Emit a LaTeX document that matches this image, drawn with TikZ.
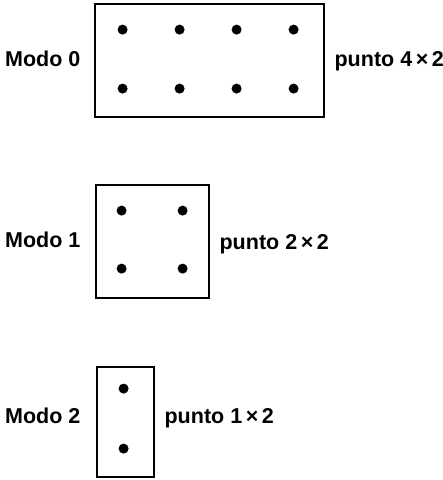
\documentclass[tikz,border=0pt]{standalone}
\usepackage{fontspec}
\setmainfont{Liberation Sans}
\usetikzlibrary{positioning, calc}

\begin{document}
\begin{tikzpicture}[x=1pt, y=-1pt, node distance=10pt,
    font=\bfseries\fontsize{21.5}{25}\selectfont,
    pantalla/.style={draw, line width=2.8pt, inner sep=0pt, minimum height=113pt},
    punto/.style={circle, fill, inner sep=0pt, minimum size=10pt},
    etiqueta/.style={inner sep=0pt, text height=15pt, text depth=4pt}]
    \useasboundingbox (0,0) rectangle (443,480);

    % Pantallas
    \node (modo0) [pantalla, minimum width=229pt] at (209.5,60.5) {};
    \node (modo1) [pantalla, minimum width=113pt] at (152.5,241.5) {};
    \node (modo2) [pantalla, minimum width=57pt, minimum height=110pt] at (125.5,422) {};

    % Puntos
    \foreach \i in {0,...,3}
        \foreach \j in {0,1}
            \node (p0\i\j) [punto] at ($(modo0.north west)+(29+57*\i, 27+59*\j)$) {};
    \foreach \i in {0,1}
        \foreach \j in {0,1}
            \node (p1\i\j) [punto] at ($(modo1.north west)+(27+61*\i, 27+58*\j)$) {};
    \foreach \j in {0,1}
        \node (p20\j) [punto] at ($(modo2.north west)+(28, 23+60*\j)$) {};

    % Etiquetas
    \node (nom0) [etiqueta, left=13pt of modo0] {Modo 0};
    \node (res0) [etiqueta, right=9pt of modo0] {punto 4\,×\,2};
    \node (nom1) [etiqueta, left=14pt of modo1] {Modo 1};
    \node (res1) [etiqueta, right=9pt of modo1, yshift=-2pt] {punto 2\,×\,2};
    \node (nom2) [etiqueta, left=15pt of modo2, yshift=4pt] {Modo 2};
    \node (res2) [etiqueta, right=9pt of modo2, yshift=4pt] {punto 1\,×\,2};
\end{tikzpicture}
\end{document}
